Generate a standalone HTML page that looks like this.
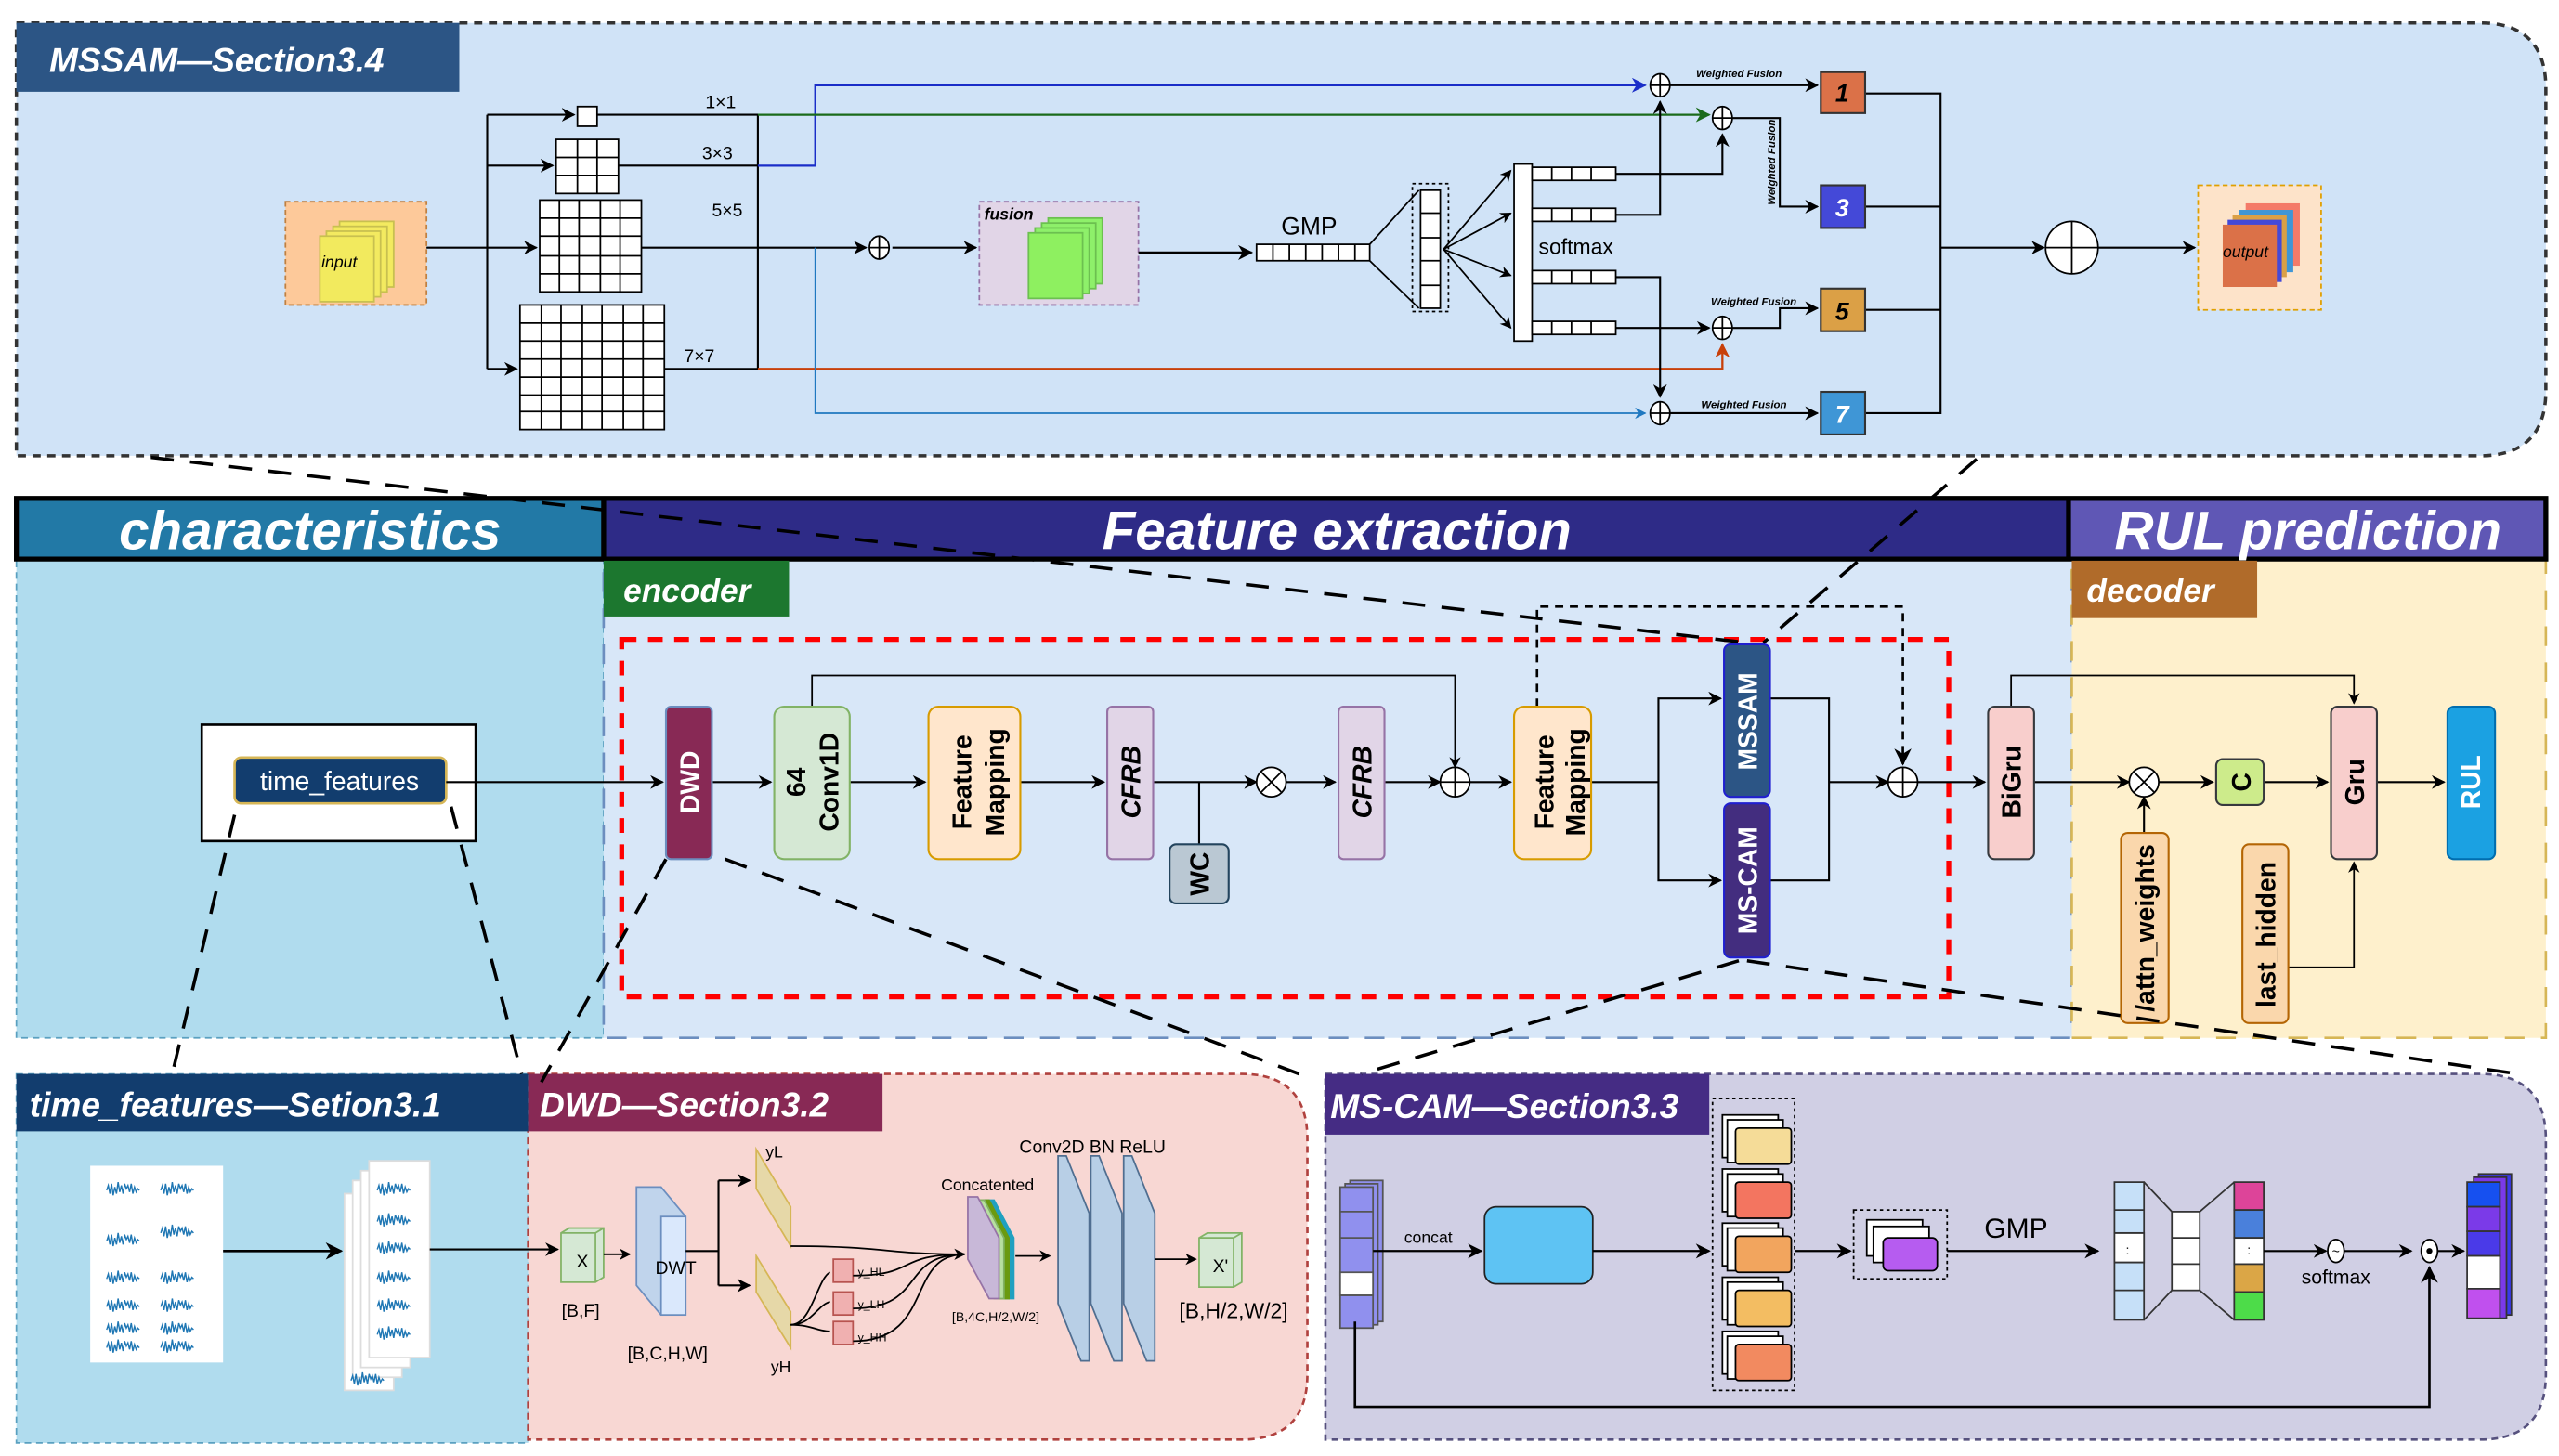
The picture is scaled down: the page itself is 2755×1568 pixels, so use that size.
<!DOCTYPE html>
<html><head><meta charset="utf-8"><style>
html,body{margin:0;padding:0;background:#fff;}
svg{display:block;}
text{font-family:"Liberation Sans",sans-serif;}
.t{font-weight:bold;font-style:italic;fill:#fff;}
.v{font-weight:bold;font-family:"DejaVu Sans","Liberation Sans",sans-serif;}
</style></head><body>
<svg width="2755" height="1568" viewBox="0 0 1560 888" preserveAspectRatio="none" xmlns="http://www.w3.org/2000/svg">
<defs>
<marker id="a" viewBox="0 0 10 10" refX="9" refY="5" markerWidth="7" markerHeight="7" orient="auto-start-reverse"><path d="M0,0 L10,5 L0,10 L3,5z" fill="#000"/></marker>
<marker id="ab" viewBox="0 0 10 10" refX="9" refY="5" markerWidth="7" markerHeight="7" orient="auto"><path d="M0,0 L10,5 L0,10 L3,5z" fill="#1a2ec8"/></marker>
<marker id="ag" viewBox="0 0 10 10" refX="9" refY="5" markerWidth="7" markerHeight="7" orient="auto"><path d="M0,0 L10,5 L0,10 L3,5z" fill="#1a6b1a"/></marker>
<marker id="ao" viewBox="0 0 10 10" refX="9" refY="5" markerWidth="7" markerHeight="7" orient="auto"><path d="M0,0 L10,5 L0,10 L3,5z" fill="#c8400a"/></marker>
<marker id="al" viewBox="0 0 10 10" refX="9" refY="5" markerWidth="7" markerHeight="7" orient="auto"><path d="M0,0 L10,5 L0,10 L3,5z" fill="#1f78c0"/></marker>
<path id="w" d="M0,0 l1,-3 l1,5 l1,-6 l1,7 l1,-5 l1,4 l1,-7 l1,6 l1,-4 l1,5 l1,-6 l1,3 l1,-2 l1,4 l1,-5 l1,6 l1,-4 l1,3 l1,-2 l1,1" fill="none" stroke="#1f77b4" stroke-width="0.8"/>
</defs>

<!-- ========== MSSAM panel ========== -->
<path d="M10,14 H1512 Q1552,14 1552,54 V238 Q1552,278 1512,278 H10 Z" fill="#d0e3f7" stroke="#333" stroke-width="2" stroke-dasharray="5,4"/>
<rect x="10" y="14" width="270" height="42" fill="#2c5585"/>
<text x="30" y="44" class="t" font-size="21">MSSAM—Section3.4</text>

<rect x="174" y="123" width="86" height="63" fill="#fdc99a" stroke="#c08040" stroke-dasharray="3,2"/>
<g stroke="#c8c050" stroke-width="1" fill="#f3ea60">
<rect x="207" y="135" width="33" height="40"/><rect x="203" y="138" width="33" height="40"/><rect x="199" y="141" width="33" height="40"/><rect x="195" y="144" width="33" height="40" fill="#f2ea5e"/>
</g>
<text x="196" y="163" font-size="10" font-style="italic">input</text>

<g fill="#fff" stroke="#000" stroke-width="1">
<rect x="352" y="65" width="12" height="12"/>
<rect x="339" y="85" width="38" height="33"/>
<path d="M352,85 V118 M364,85 V118 M339,96 H377 M339,107 H377"/>
<rect x="329" y="122" width="62" height="56"/>
<path d="M341,122V178 M353,122V178 M366,122V178 M378,122V178 M329,133H391 M329,144H391 M329,156H391 M329,167H391"/>
<rect x="317" y="186" width="88" height="76"/>
<path d="M330,186V262 M342,186V262 M355,186V262 M367,186V262 M380,186V262 M392,186V262 M317,197H405 M317,208H405 M317,219H405 M317,230H405 M317,241H405 M317,251H405"/>
</g>
<g stroke="#000" fill="none" stroke-width="1.2">
<path d="M260,151 H327" marker-end="url(#a)"/>
<path d="M297,70 V225"/>
<path d="M297,70 H350" marker-end="url(#a)"/>
<path d="M297,101 H337" marker-end="url(#a)"/>
<path d="M297,225 H315" marker-end="url(#a)"/>
<path d="M364,70 H462 V225 H405"/>
<path d="M377,101 H462"/>
<path d="M391,151 H528" marker-end="url(#a)"/>
<path d="M544,151 H595" marker-end="url(#a)"/>
</g>
<text x="430" y="66" font-size="11">1×1</text>
<text x="428" y="97" font-size="11">3×3</text>
<text x="434" y="132" font-size="11">5×5</text>
<text x="417" y="221" font-size="11">7×7</text>
<path d="M462,101 H497 V52 H1003" fill="none" stroke="#1a2ec8" stroke-width="1.3" marker-end="url(#ab)"/>
<path d="M462,70 H1042" fill="none" stroke="#1a6b1a" stroke-width="1.3" marker-end="url(#ag)"/>
<path d="M462,225 H1050 V210" fill="none" stroke="#c8400a" stroke-width="1.3" marker-end="url(#ao)"/>
<path d="M497,151 V252 H1003" fill="none" stroke="#1f78c0" stroke-width="1" marker-end="url(#al)"/>
<g fill="#fff" stroke="#000" stroke-width="1">
<ellipse cx="536" cy="151" rx="6" ry="7"/><path d="M530,151H542 M536,144V158"/>
</g>
<rect x="597" y="123" width="97" height="63" fill="#e1d5e7" stroke="#9673a6" stroke-dasharray="3,2"/>
<text x="600" y="134" font-size="10" font-style="italic" font-weight="bold">fusion</text>
<g fill="#8ef06a" stroke="#6cc050">
<rect x="639" y="133" width="33" height="40"/><rect x="635" y="136" width="33" height="40"/><rect x="631" y="139" width="33" height="40"/><rect x="627" y="142" width="33" height="40" fill="#8ef060"/>
</g>
<path d="M694,154 H763" stroke="#000" stroke-width="1.3" marker-end="url(#a)"/>
<text x="781" y="143" font-size="15">GMP</text>
<g fill="#fff" stroke="#000" stroke-width="1">
<rect x="766" y="149" width="69" height="10"/>
<path d="M776,149V159 M786,149V159 M796,149V159 M806,149V159 M816,149V159 M826,149V159"/>
</g>
<path d="M835,149 L865,116 M835,159 L865,188" stroke="#000" fill="none"/>
<rect x="861" y="112" width="22" height="78" fill="none" stroke="#000" stroke-dasharray="2,2"/>
<g fill="#fff" stroke="#000"><rect x="866" y="116" width="12" height="72"/><path d="M866,130H878 M866,145H878 M866,159H878 M866,174H878"/></g>
<g stroke="#000" fill="none" marker-end="url(#a)">
<path d="M880,152 L921,104"/><path d="M880,152 L921,130"/><path d="M880,152 L921,168"/><path d="M880,152 L921,200"/>
</g>
<rect x="923" y="100" width="11" height="108" fill="#fff" stroke="#000"/>
<g fill="#fff" stroke="#000">
<rect x="934" y="102" width="51" height="8"/><rect x="934" y="127" width="51" height="8"/><rect x="934" y="165" width="51" height="8"/><rect x="934" y="196" width="51" height="8"/>
<path d="M946,102V110 M958,102V110 M970,102V110 M946,127V135 M958,127V135 M970,127V135 M946,165V173 M958,165V173 M970,165V173 M946,196V204 M958,196V204 M970,196V204"/>
</g>
<text x="938" y="155" font-size="13">softmax</text>
<g stroke="#000" fill="none" stroke-width="1.2">
<path d="M985,106 H1050 V82" marker-end="url(#a)"/>
<path d="M985,131 H1012 V62" marker-end="url(#a)"/>
<path d="M985,169 H1012 V242" marker-end="url(#a)"/>
<path d="M985,200 H1042" marker-end="url(#a)"/>
<path d="M1017,52 H1108" marker-end="url(#a)"/>
<path d="M1055,72 H1085 V126 H1108" marker-end="url(#a)"/>
<path d="M1055,200 H1085 V188 H1108" marker-end="url(#a)"/>
<path d="M1017,252 H1108" marker-end="url(#a)"/>
<path d="M1137,57 H1183 V252 H1137 M1137,126 H1183 M1137,189 H1183"/>
<path d="M1183,151 H1246" marker-end="url(#a)"/>
<path d="M1279,151 H1338" marker-end="url(#a)"/>
</g>
<g fill="#fff" stroke="#000" stroke-width="1">
<ellipse cx="1012" cy="52" rx="6" ry="7"/><path d="M1006,52H1018 M1012,45V59"/>
<ellipse cx="1050" cy="72" rx="6" ry="7"/><path d="M1044,72H1056 M1050,65V79"/>
<ellipse cx="1050" cy="200" rx="6" ry="7"/><path d="M1044,200H1056 M1050,193V207"/>
<ellipse cx="1012" cy="252" rx="6" ry="7"/><path d="M1006,252H1018 M1012,245V259"/>
<ellipse cx="1263" cy="151" rx="16" ry="16"/><path d="M1247,151H1279 M1263,135V167"/>
</g>
<g font-size="6.5" font-style="italic" font-weight="bold">
<text x="1034" y="47">Weighted Fusion</text>
<text x="1043" y="186">Weighted Fusion</text>
<text x="1037" y="249">Weighted Fusion</text>
<text transform="translate(1082,125) rotate(-90)">Weighted Fusion</text>
</g>
<g stroke="#333" stroke-width="1.2">
<rect x="1110" y="44" width="27" height="25" fill="#db7148"/>
<rect x="1110" y="113" width="27" height="26" fill="#4449d8"/>
<rect x="1110" y="176" width="27" height="26" fill="#dba046"/>
<rect x="1110" y="239" width="27" height="26" fill="#3f96d6"/>
</g>
<g font-size="15" font-weight="bold" font-style="italic" text-anchor="middle">
<text x="1123" y="62">1</text><text x="1123" y="132" fill="#fff">3</text><text x="1123" y="195">5</text><text x="1123" y="258" fill="#fff">7</text>
</g>
<rect x="1340" y="113" width="75" height="76" fill="#fde3c9" stroke="#e0a000" stroke-dasharray="3,2"/>
<rect x="1369" y="124" width="33" height="38" fill="#f47a68"/>
<rect x="1365" y="128" width="33" height="38" fill="#3f96d6"/>
<rect x="1361" y="131" width="33" height="38" fill="#dba046"/>
<rect x="1358" y="134" width="33" height="38" fill="#4449d8"/>
<rect x="1355" y="137" width="33" height="38" fill="#db7148"/>
<text x="1355" y="157" font-size="10" font-style="italic">output</text>

<!-- ========== main ========== -->
<rect x="10" y="341" width="358" height="292" fill="#b0dcee" stroke="#5aa0c0" stroke-dasharray="4,3"/>
<rect x="368" y="341" width="895" height="292" fill="#d8e7f8" stroke="#6c8ebf" stroke-width="1.5" stroke-dasharray="12,10"/>
<rect x="1263" y="341" width="289" height="292" fill="#fef0cc" stroke="#d6b656" stroke-width="1.5" stroke-dasharray="12,10"/>
<rect x="10" y="304" width="358" height="37" fill="#2279a6"/>
<rect x="368" y="304" width="893" height="37" fill="#2e2b87"/>
<rect x="1261" y="304" width="291" height="37" fill="#5f57b5"/>
<path d="M10,304 H1552 V341 H10 Z M368,304 V341 M1261,304 V341" fill="none" stroke="#000" stroke-width="3"/>
<text x="189" y="335" class="t" font-size="33" text-anchor="middle">characteristics</text>
<text x="815" y="335" class="t" font-size="33" text-anchor="middle">Feature extraction</text>
<text x="1407" y="335" class="t" font-size="33" text-anchor="middle">RUL prediction</text>
<rect x="368" y="342" width="113" height="34" fill="#1c772f"/>
<text x="380" y="367" class="t" font-size="20">encoder</text>
<rect x="1263" y="342" width="113" height="35" fill="#b06b2a"/>
<text x="1272" y="367" class="t" font-size="20">decoder</text>

<rect x="379" y="390" width="809" height="218" fill="none" stroke="#f00" stroke-width="3" stroke-dasharray="9,7"/>

<rect x="123" y="442" width="167" height="71" fill="#fff" stroke="#000" stroke-width="1.5"/>
<rect x="143" y="462" width="129" height="28" rx="4" fill="#123d6e" stroke="#d6b656" stroke-width="1.5"/>
<text x="207" y="482" font-size="16" fill="#fff" text-anchor="middle">time_features</text>

<g stroke="#000" fill="none" stroke-width="1.2">
<path d="M272,477 H404" marker-end="url(#a)"/>
<path d="M434,477 H470" marker-end="url(#a)"/>
<path d="M518,477 H564" marker-end="url(#a)"/>
<path d="M622,477 H673" marker-end="url(#a)"/>
<path d="M703,477 H766" marker-end="url(#a)"/>
<path d="M731,477 V515"/>
<path d="M784,477 H814" marker-end="url(#a)"/>
<path d="M844,477 H878" marker-end="url(#a)"/>
<path d="M495,431 V412 H887 V468" stroke-width="1" marker-end="url(#a)"/>
<path d="M896,477 H921" marker-end="url(#a)"/>
<path d="M970,477 H1011 V426 H1049" marker-end="url(#a)"/>
<path d="M1011,477 V537 H1049" marker-end="url(#a)"/>
<path d="M1079,426 H1115 V537 H1079 M1115,477 H1151" marker-end="url(#a)"/>
<path d="M1169,477 H1210" marker-end="url(#a)"/>
<path d="M1240,477 H1298" marker-end="url(#a)"/>
<path d="M1316,477 H1349" marker-end="url(#a)"/>
<path d="M1380,477 H1419" marker-end="url(#a)"/>
<path d="M1449,477 H1490" marker-end="url(#a)"/>
<path d="M1307,508 V486" marker-end="url(#a)"/>
<path d="M1226,431 V412 H1435 V429" stroke-width="1" marker-end="url(#a)"/>
<path d="M1395,590 H1435 V526" stroke-width="1" marker-end="url(#a)"/>
<path d="M937,431 V370 H1160 V466" stroke-width="1.5" stroke-dasharray="5,4" marker-end="url(#a)"/>
</g>
<g fill="#fff" stroke="#000">
<ellipse cx="775" cy="477" rx="9" ry="9"/><path d="M769,471 L781,483 M781,471 L769,483"/>
<ellipse cx="887" cy="477" rx="9" ry="9"/><path d="M878,477H896 M887,468V486"/>
<ellipse cx="1160" cy="477" rx="9" ry="9"/><path d="M1151,477H1169 M1160,468V486"/>
<ellipse cx="1307" cy="477" rx="9" ry="9"/><path d="M1301,471 L1313,483 M1313,471 L1301,483"/>
</g>
<g stroke-width="1.2">
<rect x="406" y="431" width="28" height="93" rx="3" fill="#882955" stroke="#6c8ebf"/>
<rect x="472" y="431" width="46" height="93" rx="6" fill="#d5e8d4" stroke="#82b366"/>
<rect x="566" y="431" width="56" height="93" rx="6" fill="#ffe6cc" stroke="#d79b00"/>
<rect x="675" y="431" width="28" height="93" rx="3" fill="#e1d5e7" stroke="#9673a6"/>
<rect x="713" y="515" width="36" height="36" rx="4" fill="#bac8d3" stroke="#23445d"/>
<rect x="816" y="431" width="28" height="93" rx="3" fill="#e1d5e7" stroke="#9673a6"/>
<rect x="923" y="431" width="47" height="93" rx="6" fill="#ffe6cc" stroke="#d79b00"/>
<rect x="1051" y="393" width="28" height="93" rx="4" fill="#2c5585" stroke="#2020d0"/>
<rect x="1051" y="490" width="28" height="94" rx="4" fill="#432d7f" stroke="#2020d0"/>
<rect x="1212" y="431" width="28" height="93" rx="4" fill="#f8cecc" stroke="#36393d"/>
<rect x="1293" y="508" width="29" height="116" rx="4" fill="#fad7ac" stroke="#b46504"/>
<rect x="1351" y="463" width="29" height="28" rx="4" fill="#cdeb8b" stroke="#36393d"/>
<rect x="1367" y="515" width="28" height="109" rx="4" fill="#fad7ac" stroke="#b46504"/>
<rect x="1421" y="431" width="28" height="93" rx="4" fill="#f8cecc" stroke="#36393d"/>
<rect x="1492" y="431" width="29" height="93" rx="4" fill="#1ba1e2" stroke="#006eaf"/>
</g>
<g class="v" font-size="16">
<text transform="translate(426,477) rotate(-90)" text-anchor="middle" fill="#fff">DWD</text>
<text transform="translate(491,477) rotate(-90)" text-anchor="middle">64</text>
<text transform="translate(511,477) rotate(-90)" text-anchor="middle">Conv1D</text>
<text transform="translate(592,477) rotate(-90)" text-anchor="middle">Feature</text>
<text transform="translate(612,477) rotate(-90)" text-anchor="middle">Mapping</text>
<text transform="translate(695,477) rotate(-90)" text-anchor="middle" font-style="italic">CFRB</text>
<text transform="translate(737,533) rotate(-90)" text-anchor="middle">WC</text>
<text transform="translate(836,477) rotate(-90)" text-anchor="middle" font-style="italic">CFRB</text>
<text transform="translate(947,477) rotate(-90)" text-anchor="middle">Feature</text>
<text transform="translate(966,477) rotate(-90)" text-anchor="middle">Mapping</text>
<text transform="translate(1071,440) rotate(-90)" text-anchor="middle" fill="#fff">MSSAM</text>
<text transform="translate(1071,537) rotate(-90)" text-anchor="middle" fill="#fff">MS-CAM</text>
<text transform="translate(1232,477) rotate(-90)" text-anchor="middle">BiGru</text>
<text transform="translate(1313,566) rotate(-90)" text-anchor="middle">/attn_weights</text>
<text transform="translate(1372,477) rotate(-90)" text-anchor="middle">C</text>
<text transform="translate(1387,570) rotate(-90)" text-anchor="middle">last_hidden</text>
<text transform="translate(1441,477) rotate(-90)" text-anchor="middle">Gru</text>
<text transform="translate(1512,477) rotate(-90)" text-anchor="middle" fill="#fff">RUL</text>
</g>

<!-- ========== bottom panels ========== -->
<rect x="10" y="655" width="312" height="225" fill="#b0dcee" stroke="#5aa0c0" stroke-dasharray="4,3"/>
<path d="M322,655 H757 Q797,655 797,695 V838 Q797,878 757,878 H322 Z" fill="#f8d7d3" stroke="#b0413e" stroke-width="1.5" stroke-dasharray="4,3"/>
<path d="M808,655 H1512 Q1552,655 1552,695 V838 Q1552,878 1512,878 H808 Z" fill="#d0cfe4" stroke="#56517e" stroke-width="1.5" stroke-dasharray="4,3"/>
<rect x="10" y="655" width="312" height="35" fill="#123d6e"/>
<text x="18" y="681" class="t" font-size="21">time_features—Setion3.1</text>
<rect x="322" y="655" width="216" height="35" fill="#882955"/>
<text x="329" y="681" class="t" font-size="21">DWD—Section3.2</text>
<rect x="808" y="655" width="234" height="37" fill="#452c84"/>
<text x="811" y="682" class="t" font-size="21">MS-CAM—Section3.3</text>

<!-- time features content -->
<rect x="55" y="711" width="81" height="120" fill="#fff"/>
<g>
<use href="#w" x="65" y="726"/><use href="#w" x="98" y="726"/>
<use href="#w" x="65" y="757"/><use href="#w" x="98" y="752"/>
<use href="#w" x="65" y="780"/><use href="#w" x="98" y="780"/>
<use href="#w" x="65" y="797"/><use href="#w" x="98" y="797"/>
<use href="#w" x="65" y="811"/><use href="#w" x="98" y="811"/>
<use href="#w" x="65" y="822"/><use href="#w" x="98" y="822"/>
</g>
<g fill="#fff" stroke="#ddd">
<rect x="210" y="728" width="30" height="120"/><rect x="215" y="720" width="30" height="120"/><rect x="220" y="714" width="30" height="120"/><rect x="225" y="708" width="37" height="120"/>
</g>
<g>
<use href="#w" x="230" y="726"/><use href="#w" x="230" y="745"/><use href="#w" x="230" y="762"/>
<use href="#w" x="230" y="780"/><use href="#w" x="230" y="797"/><use href="#w" x="230" y="814"/>
<use href="#w" x="214" y="842"/>
</g>
<path d="M136,763 H208" stroke="#000" stroke-width="1.5" marker-end="url(#a)"/>
<path d="M262,762 H340" stroke="#000" stroke-width="1.2" marker-end="url(#a)"/>

<!-- DWD content -->
<g stroke="#82b366" fill="#d5e8d4">
<path d="M342,752 L347,749 L368,749 L368,779 L363,782 L342,782Z"/><path d="M342,752 H363 V782 M363,752 L368,749" fill="none"/>
<path d="M731,755 L736,752 L757,752 L757,782 L752,785 L731,785Z"/><path d="M731,755 H752 V785 M752,755 L757,752" fill="none"/>
</g>
<text x="355" y="773" font-size="11" text-anchor="middle">X</text>
<text x="744" y="776" font-size="11" text-anchor="middle">X'</text>
<text x="354" y="803" font-size="11" text-anchor="middle">[B,F]</text>
<path d="M368,765 H384" stroke="#000" marker-end="url(#a)"/>
<polygon points="388,724 403,724 418,742 418,802 403,802 388,784" fill="#c0d4ec" stroke="#6c8ebf"/>
<rect x="403" y="742" width="15" height="60" fill="#dae8fc" stroke="#6c8ebf"/>
<text x="412" y="777" font-size="11" text-anchor="middle">DWT</text>
<text x="407" y="829" font-size="11" text-anchor="middle">[B,C,H,W]</text>
<g stroke="#000" fill="none" stroke-width="1.2">
<path d="M418,763 H438 M438,720 V784 M438,720 H457" marker-end="url(#a)"/>
<path d="M438,784 H457" marker-end="url(#a)"/>
</g>
<g fill="#e6d8a8" stroke="#d6b656">
<polygon points="461,766 482,800 482,822 461,788"/>
</g>
<polygon points="461,701 482,736 482,760 461,725" fill="#e6d8a8" stroke="#d6b656"/>
<text x="472" y="706" font-size="10" text-anchor="middle">yL</text>
<text x="476" y="837" font-size="10" text-anchor="middle">yH</text>
<g fill="#f0b0b0" stroke="#b85450">
<rect x="508" y="768" width="12" height="14"/><rect x="508" y="788" width="12" height="14"/><rect x="508" y="806" width="12" height="14"/>
</g>
<g font-size="7"><text x="523" y="778">y_HL</text><text x="523" y="798">y_LH</text><text x="523" y="818">y_HH</text></g>
<g stroke="#000" fill="none" stroke-width="1">
<path d="M482,760 C540,760 540,765 588,765" marker-end="url(#a)"/>
<path d="M520,778 C560,778 545,765 588,765"/>
<path d="M520,798 C565,798 548,765 588,765"/>
<path d="M520,818 C570,818 552,765 588,765"/>
<path d="M482,808 C495,808 498,780 506,776"/>
<path d="M482,808 C495,808 498,796 506,794"/>
<path d="M482,808 C495,808 498,812 506,812"/>
</g>
<g stroke-width="1">
<polygon points="600,732 606,732 618,755 618,792 612,792 600,770" fill="#20a0c0" stroke="#20a0c0"/>
<polygon points="597,732 603,732 615,755 615,792 609,792 597,770" fill="#6a9a10" stroke="#6a9a10"/>
<polygon points="594,732 600,732 612,755 612,792 606,792 594,770" fill="#b7e0a0" stroke="#82b366"/>
<polygon points="590,730 596,730 609,755 609,792 603,792 590,768" fill="#c8b8d8" stroke="#9673a6"/>
</g>
<text x="602" y="726" font-size="10" text-anchor="middle">Concatented</text>
<text x="607" y="806" font-size="8" text-anchor="middle">[B,4C,H/2,W/2]</text>
<path d="M619,766 H640" stroke="#000" marker-end="url(#a)"/>
<g fill="#b8cfe6" stroke="#506e90">
<polygon points="645,705 650,705 664,740 664,830 659,830 645,795"/>
<polygon points="665,705 670,705 684,740 684,830 679,830 665,795"/>
<polygon points="685,705 690,705 704,740 704,830 699,830 685,795"/>
</g>
<text x="666" y="703" font-size="11" text-anchor="middle">Conv2D BN ReLU</text>
<path d="M704,768 H729" stroke="#000" marker-end="url(#a)"/>
<text x="752" y="804" font-size="13" text-anchor="middle">[B,H/2,W/2]</text>

<!-- MS-CAM content -->
<g stroke="#555">
<rect x="823" y="720" width="20" height="86" fill="#9090ee"/>
<rect x="820" y="722" width="20" height="86" fill="#9090ee"/>
<rect x="817" y="724" width="20" height="86" fill="#9090ee"/>
<rect x="817" y="776" width="20" height="14" fill="#fff"/>
<path d="M817,739H837 M817,755H837 M817,790H837" fill="none"/>
</g>
<text x="856" y="758" font-size="10">concat</text>
<path d="M837,763 H903" stroke="#000" stroke-width="1.3" marker-end="url(#a)"/>
<rect x="905" y="736" width="66" height="47" rx="7" fill="#5ec3f3" stroke="#222"/>
<path d="M971,763 H1042" stroke="#000" stroke-width="1.3" marker-end="url(#a)"/>
<rect x="1044" y="670" width="50" height="178" fill="none" stroke="#000" stroke-dasharray="2,2"/>
<g stroke="#000">
<g><rect x="1050" y="680" width="34" height="26" fill="#fff"/><rect x="1053" y="683" width="34" height="26" fill="#fff"/><rect x="1058" y="688" width="34" height="22" rx="2" fill="#f5dc98"/></g>
<g><rect x="1050" y="713" width="34" height="26" fill="#fff"/><rect x="1053" y="716" width="34" height="26" fill="#fff"/><rect x="1058" y="721" width="34" height="22" rx="2" fill="#f37560"/></g>
<g><rect x="1050" y="746" width="34" height="26" fill="#fff"/><rect x="1053" y="749" width="34" height="26" fill="#fff"/><rect x="1058" y="754" width="34" height="22" rx="2" fill="#f2a55e"/></g>
<g><rect x="1050" y="779" width="34" height="26" fill="#fff"/><rect x="1053" y="782" width="34" height="26" fill="#fff"/><rect x="1058" y="787" width="34" height="22" rx="2" fill="#f3bd62"/></g>
<g><rect x="1050" y="812" width="34" height="26" fill="#fff"/><rect x="1053" y="815" width="34" height="26" fill="#fff"/><rect x="1058" y="820" width="34" height="22" rx="2" fill="#f28a60"/></g>
</g>
<path d="M1094,763 H1128" stroke="#000" stroke-width="1.3" marker-end="url(#a)"/>
<rect x="1130" y="738" width="57" height="42" fill="none" stroke="#000" stroke-dasharray="2,2"/>
<g stroke="#000"><rect x="1138" y="744" width="34" height="22" fill="#fff"/><rect x="1142" y="748" width="34" height="22" fill="#fff"/><rect x="1148" y="755" width="33" height="20" rx="3" fill="#b65cf0"/></g>
<text x="1229" y="755" font-size="17" text-anchor="middle">GMP</text>
<path d="M1187,763 H1279" stroke="#000" stroke-width="1.3" marker-end="url(#a)"/>
<g stroke="#333">
<rect x="1289" y="721" width="18" height="84" fill="#c6e0f8"/>
<rect x="1289" y="752" width="18" height="18" fill="#fff"/>
<path d="M1289,738H1307 M1289,752H1307 M1289,770H1307 M1289,787H1307" fill="none"/>
<path d="M1307,721 L1324,739 M1307,805 L1324,787 M1341,739 L1362,721 M1341,787 L1362,805" fill="none"/>
<rect x="1324" y="739" width="17" height="48" fill="#fff"/>
<path d="M1324,755H1341 M1324,771H1341" fill="none"/>
<rect x="1362" y="721" width="18" height="17" fill="#dd4499"/>
<rect x="1362" y="738" width="18" height="17" fill="#4a80db"/>
<rect x="1362" y="755" width="18" height="16" fill="#fff"/>
<rect x="1362" y="771" width="18" height="17" fill="#dba646"/>
<rect x="1362" y="788" width="18" height="17" fill="#4ddc49"/>
</g>
<text x="1297" y="765" font-size="8" text-anchor="middle">:</text>
<text x="1371" y="765" font-size="8" text-anchor="middle">:</text>
<path d="M1380,763 H1418" stroke="#000" stroke-width="1.2" marker-end="url(#a)"/>
<path d="M1428,763 H1470" stroke="#000" stroke-width="1.2" marker-end="url(#a)"/>
<path d="M1480,763 H1502" stroke="#000" stroke-width="1.2" marker-end="url(#a)"/>
<ellipse cx="1424" cy="763" rx="5" ry="7" fill="#fff" stroke="#000"/>
<text x="1424" y="766" font-size="8" text-anchor="middle">~</text>
<ellipse cx="1481" cy="763" rx="5" ry="7" fill="#fff" stroke="#000"/>
<circle cx="1481" cy="763" r="1.8" fill="#000"/>
<text x="1424" y="783" font-size="12" text-anchor="middle">softmax</text>
<path d="M826,806 V858 H1481 V773" stroke="#000" stroke-width="1.5" fill="none" marker-end="url(#a)"/>
<g stroke="#333">
<rect x="1511" y="716" width="20" height="86" fill="#3a3ae8"/>
<rect x="1508" y="718" width="20" height="86" fill="#7b3ae8"/>
<rect x="1504" y="721" width="20" height="15" fill="#1650f0"/>
<rect x="1504" y="736" width="20" height="15" fill="#7b3ae8"/>
<rect x="1504" y="751" width="20" height="15" fill="#4a3ae8"/>
<rect x="1504" y="766" width="20" height="20" fill="#fff"/>
<rect x="1504" y="786" width="20" height="18" fill="#c050ee"/>
</g>

<g stroke="#000" stroke-width="2" fill="none" stroke-dasharray="14,10">
<path d="M92,279 L1065,392"/>
<path d="M1205,280 L1075,392"/>
<path d="M143,497 L105,655"/>
<path d="M275,492 L318,655"/>
<path d="M406,524 L330,660"/>
<path d="M442,524 L792,655"/>
<path d="M1060,586 L830,655"/>
<path d="M1065,586 L1535,655"/>
</g>
</svg>
</body></html>
